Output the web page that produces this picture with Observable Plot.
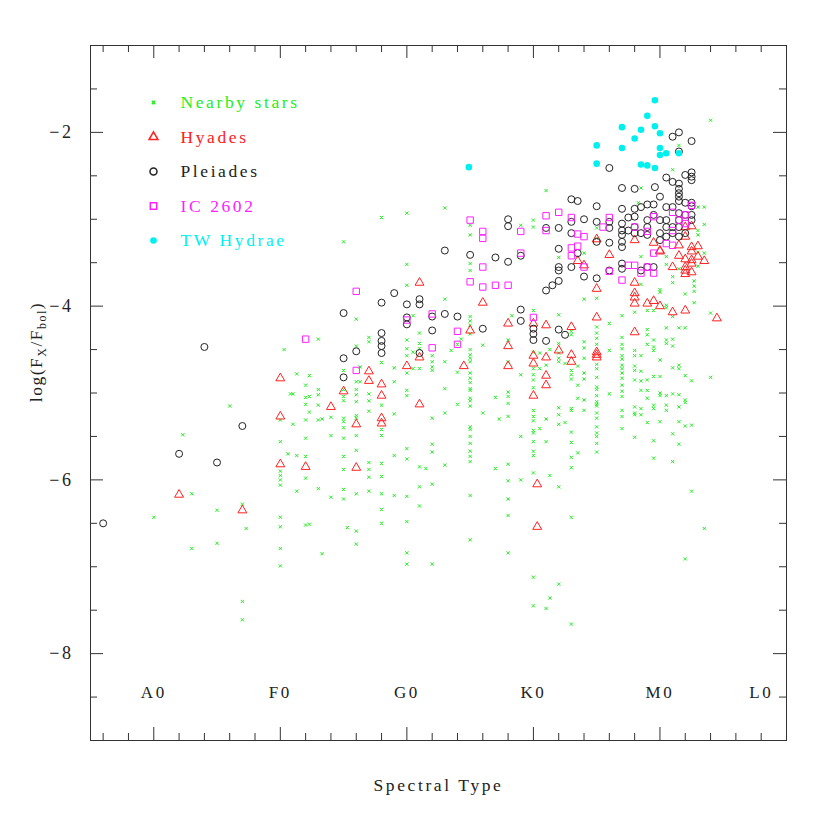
<!DOCTYPE html>
<html><head><meta charset="utf-8">
<script src="https://cdn.jsdelivr.net/npm/d3@7"></script>
<script src="https://cdn.jsdelivr.net/npm/@observablehq/plot@0.6"></script>
<style>body{margin:0;background:#fff}#chart svg{display:block}</style>
</head><body><div id="chart"></div>
<script>
// x = spectral subclass index (A0 = 0, F0 = 10, G0 = 20, K0 = 30, M0 = 40), y = log(Fx/Fbol)
const twHydrae = [[24.9,-2.40],[35,-2.15],[35,-2.36],[39.6,-1.63],[39,-1.81],[37,-1.94],[38.5,-1.97],[39.6,-1.93],[40,-2.01],[38,-2.07],[37,-2.18],[40,-2.18],[40,-2.26],[40.5,-2.24],[41.5,-2.24],[38.5,-2.37],[39,-2.38],[39.6,-2.41]];

const pleiades = [[-4,-6.50],[2,-5.70],[4,-4.47],[5,-5.80],[7,-5.38],
[15,-4.08],[19,-3.85],[18,-3.96],[20,-3.98],[20,-4.13],[20,-4.21],[16,-4.52],[15,-4.60],[15,-4.82],[18,-4.31],[18,-4.40],[18,-4.46],[18,-4.54],[21,-3.92],[21,-3.98],[21,-4.54],
[28,-3.00],[28,-3.08],[23,-3.36],[25,-3.41],[27,-3.44],[28,-3.49],[29,-3.42],[22,-4.12],[23,-4.09],[24,-4.12],[22,-4.28],[26,-4.26],[29,-4.04],[29,-4.17],[30,-4.26],[30,-4.32],[30,-4.39],
[36,-2.41],[33,-2.77],[33.5,-2.79],[35,-2.85],[31,-3.10],[32,-3.10],[33,-3.03],[33,-3.16],[34,-3.00],[35,-3.03],[36,-3.03],[36,-3.10],[35,-3.26],[36,-3.27],[32,-3.34],[33.5,-3.39],[32,-3.55],[32,-3.59],[33,-3.55],[34,-3.66],[35,-3.68],[32,-3.71],[31.5,-3.76],[31,-3.82],[36,-3.59],[31,-4.40],[32,-4.27],[32.5,-4.33],
[37,-3.51],[37,-3.57],[38.5,-3.59],[39,-3.55],[39.5,-3.55],
[41.5,-2.00],[41,-2.05],[42.5,-2.10],[41.5,-2.22],[40.5,-2.52],[41,-2.57],[42.5,-2.46],[42.5,-2.51],[42.5,-2.55],[42,-2.49],[41.5,-2.59],[41.5,-2.65],[41.5,-2.70],[41.5,-2.74],[41.5,-2.79],[37,-2.64],[38,-2.65],[39.6,-2.63],[40,-2.74],[39,-2.83],[39.5,-2.83],[38.5,-2.86],[40.5,-2.86],[41,-2.86],[42,-2.81],[42.5,-2.81],[42.5,-2.85],[42,-2.95],[37,-2.88],[38,-2.88],[38,-2.97],[37.5,-2.98],[39,-3.01],[39,-3.09],[39.5,-2.95],[40,-3.01],[40.5,-3.01],[40.5,-3.09],[41,-3.09],[41.5,-2.93],[41.5,-3.01],[41.5,-3.09],[42.5,-2.95],[42.5,-3.01],[37,-3.05],[37,-3.13],[37,-3.18],[38,-3.09],[38,-3.16],[37,-3.26],[37,-3.32],[40,-3.16],[40,-3.24],[39,-3.18],[37.5,-3.13],[38.5,-3.16],[41,-3.16],[41.5,-3.20],[40.5,-3.20],[42,-3.16]];

const ic2602 = [[12,-4.38],[16,-3.83],[16,-4.74],[20,-4.16],
[25,-3.01],[26,-3.14],[26,-3.22],[29,-3.14],[29,-3.39],[26,-3.55],[25,-3.72],[26,-3.78],[27,-3.76],[28,-3.76],[22,-4.09],[24,-4.29],[24,-4.44],[22,-4.48],[30,-4.13],
[31,-2.96],[32,-2.92],[33,-2.98],[33.5,-3.17],[34,-3.20],[33,-3.33],[33,-3.42],[33.5,-3.31],[34,-3.55],[36,-2.98],[35.5,-3.09],[31,-3.13],[36,-3.60],
[37,-3.70],[37.5,-3.53],[38,-3.53],[38.5,-3.62],[39,-3.55],[39.5,-3.62],
[39.5,-2.97],[41,-2.92],[42,-2.95],[42.5,-2.84],[38,-3.09],[39,-3.14],[41,-3.13],[41.5,-3.01],[42,-3.05],[40.5,-3.28],[41,-3.30],[39.5,-3.39]];

const hyades = [[10,-4.83],[10,-5.27],[10,-5.82],[2,-6.17],[7,-6.35],
[21,-3.73],[17,-4.75],[17,-4.86],[18,-4.90],[18,-5.03],[15,-4.98],[14,-5.16],[16,-5.36],[18,-5.29],[18,-5.35],[20,-4.69],[21,-4.59],[21,-5.13],[12,-5.85],[16,-5.86],
[26,-3.96],[25,-4.28],[28,-4.20],[28,-4.46],[28,-4.69],[24.5,-4.69],[30,-4.20],[30,-4.57],[30,-4.66],[30,-5.03],[30.3,-6.05],[30.3,-6.54],
[33.5,-3.48],[34,-3.53],[35,-3.23],[36,-3.41],[35,-3.80],[35,-4.13],[31,-4.22],[33,-4.24],[32,-4.51],[31,-4.59],[33,-4.56],[33,-4.64],[35,-4.53],[35,-4.56],[35,-4.59],[31,-4.80],[31,-4.91],
[40,-3.37],[41.5,-3.42],[42,-3.46],[42.5,-3.37],[42.5,-3.47],[42.5,-3.51],[43,-3.43],[43.5,-3.48],[41,-3.55],[42,-3.55],[42,-3.59],[42,-3.63],[42.5,-3.61],[38,-3.73],[38,-3.85],[38,-3.90],[38,-3.97],[39,-3.97],[39.5,-3.94],[40,-4.00],[41,-4.07],[42,-4.05],[44.5,-4.14],[38,-4.30],
[38,-3.24],[42,-3.09],[42.5,-3.08],[41.5,-3.30],[39.5,-3.27],[40,-3.36],[42.5,-3.32],[43,-3.31],[42,-3.20]];

const nearby = [[10.3,-4.50],[11.3,-4.78],[10.8,-5.01],[11,-5.01],[6,-5.15],[10,-5.31],[11,-5.36],[2.3,-5.48],[10,-5.56],[10.6,-5.70],[11.3,-5.72],[10,-5.90],[10,-5.95],[10,-6.00],[10,-6.06],[11.3,-6.13],[3,-6.16],[7,-6.28],[5,-6.35],[0,-6.43],[10,-6.43],[10,-6.54],[7.3,-6.56],[5,-6.73],[3,-6.79],[10,-6.79],[10,-6.99],[7,-7.40],[7,-7.61],
[18,-2.98],[20,-2.93],[15,-3.26],[20,-3.52],[20,-3.76],[16,-4.15],[13,-4.38],[17,-4.36],[17,-4.41],[16,-4.46],[20,-4.39],[20,-4.49],[20,-4.57],[18,-4.65],[19,-4.71],[16.3,-4.70],[15,-4.74],[20,-4.77],[12.3,-4.80],[12,-4.91],[16,-4.87],[16.3,-4.87],[19,-4.87],[12,-5.05],[12,-5.13],[12.3,-5.04],[13,-4.96],[13,-5.02],[15,-4.96],[15,-5.04],[15,-5.09],[16,-4.96],[16,-5.02],[16,-5.10],[17,-5.01],[17,-5.09],[18,-5.14],[20,-4.97],[20,-5.03],[13,-5.14],[12.3,-5.22],[17,-5.21],[19,-5.24],[12,-5.31],[13,-5.31],[13.3,-5.30],[14,-5.28],[15,-5.29],[15,-5.33],[15,-5.40],[16,-5.26],[16,-5.29],[16,-5.49],[18,-5.42],[18,-5.49],[14,-5.49],[15,-5.52],[12,-5.52],[16,-5.66],[20,-5.64],[20,-5.76],[19,-5.72],[12,-5.73],[15,-5.73],[17,-5.80],[17,-5.88],[17,-5.97],[18,-5.81],[18,-5.96],[15,-5.88],[12,-5.98],[13,-6.10],[15,-6.11],[15,-6.22],[14,-6.20],[17,-6.13],[16,-6.16],[18,-6.16],[19,-6.18],[20,-6.19],[18,-6.34],[20,-6.48],[18,-6.50],[12,-6.52],[12.3,-6.51],[15.3,-6.55],[16,-6.59],[16,-6.74],[13.3,-6.85],[20,-6.84],[20,-6.97],
[23,-2.87],[25,-3.07],[25,-3.18],[25,-3.51],[25,-3.59],[29,-3.07],[30,-3.01],[30,-3.09],[23,-3.92],[20.5,-4.11],[21,-4.31],[21,-4.43],[21,-4.49],[20.5,-4.53],[20.5,-4.72],[21,-4.72],[22,-4.57],[22,-4.64],[22,-4.70],[22,-4.74],[23,-4.64],[23.5,-4.51],[24.3,-4.38],[24,-4.44],[25,-4.12],[25,-4.17],[25,-4.22],[25,-4.32],[25,-4.50],[25,-4.56],[25,-4.60],[25,-4.64],[25,-4.77],[25,-4.83],[25,-4.88],[25,-4.95],[25,-4.97],[25,-5.06],[25,-5.09],[25,-5.15],[24,-4.76],[23,-4.95],[24,-5.13],[22,-5.29],[23,-5.23],[26,-4.45],[26,-5.23],[27,-5.05],[27.3,-5.30],[28,-4.39],[28,-4.64],[28,-4.99],[28,-5.04],[28,-5.12],[28,-5.27],[29,-4.79],[28.3,-4.11],[30,-4.05],[30,-4.53],[30.5,-4.54],[30,-4.72],[30,-4.79],[30,-4.85],[30,-4.94],[30.5,-4.72],[30,-5.20],[30,-5.27],[30,-5.32],[30,-5.43],[30,-5.46],[30,-5.56],[30,-5.67],[30,-5.72],[30.5,-5.41],[30,-5.92],[25,-5.39],[25,-5.42],[25,-5.50],[25,-5.58],[25,-5.67],[25,-5.73],[25,-5.79],[25,-6.18],[25,-6.69],[22,-5.59],[22,-5.68],[23,-5.83],[21,-5.85],[21.5,-5.87],[22,-6.05],[21,-6.08],[21,-6.30],[22,-6.97],[27,-5.87],[28,-5.82],[28,-6.01],[29,-5.50],[29,-6.00],[28,-6.22],[28,-6.41],[28,-6.84],[30,-7.12],[30,-7.45],
[31,-2.67],[35,-3.10],[35,-3.22],[34,-3.39],[32,-3.44],[34,-3.92],[35,-3.91],[36,-4.20],[36,-4.51],[36,-5.01],[32,-4.10],[33,-4.29],[33,-4.33],[32,-4.43],[32,-4.54],[32,-4.60],[32,-4.64],[34,-4.41],[34,-4.48],[34,-4.60],[31.3,-4.50],[31,-4.68],[32.5,-4.66],[33.5,-4.69],[34,-4.77],[34,-4.84],[33,-4.74],[33,-4.79],[33,-4.84],[35,-4.24],[35,-4.31],[35,-4.37],[35,-4.44],[35,-4.67],[35,-4.72],[35,-4.82],[35,-4.93],[35,-4.96],[35,-5.03],[35,-5.10],[35,-5.13],[35,-5.15],[35,-5.23],[35,-5.29],[35,-5.39],[35,-5.46],[35,-5.50],[35,-5.58],[35,-5.68],[32,-5.17],[32,-5.25],[32,-5.36],[31,-5.30],[31,-5.56],[32.5,-5.34],[33,-5.18],[33,-5.20],[33,-5.45],[33,-5.57],[33,-5.74],[33,-5.86],[33.5,-5.06],[33.5,-5.69],[34,-5.08],[34,-5.20],[33.5,-4.91],[31.3,-5.95],[32,-6.08],[33,-6.43],[32,-7.20],[31.3,-7.36],[31,-7.48],[33,-7.66],
[38.5,-3.43],[40.5,-3.43],[40.5,-3.52],[41,-3.66],[41,-3.73],[41.5,-3.57],[42.7,-3.71],[42.7,-3.77],[42.7,-3.83],[42,-3.86],[42.7,-3.96],[43,-3.54],[40,-3.81],[40,-3.84],[38.5,-3.75],[40.5,-3.99],[40.5,-4.02],[39,-4.05],[39.5,-4.05],[41,-4.12],[37,-4.11],[38,-4.07],[40.5,-4.25],[41.5,-4.25],[42,-4.25],[44,-4.08],[39,-4.27],[39,-4.33],[39.5,-4.39],[39.5,-4.47],[39.5,-4.51],[39,-4.44],[40,-4.62],[37,-4.36],[37,-4.44],[37,-4.49],[37,-4.57],[37,-4.61],[37,-4.68],[37,-4.72],[37,-4.77],[37,-4.83],[38,-4.51],[38,-4.57],[38,-4.69],[38,-4.74],[38.5,-4.57],[40.5,-4.39],[40.5,-4.43],[41,-4.38],[41,-4.46],[41.5,-4.68],[41.5,-4.72],[41,-4.71],[42,-4.80],[42.5,-4.86],[44,-4.82],[40,-4.81],[39.5,-4.81],[39,-4.85],[38.5,-4.75],[38.5,-4.86],[38,-4.85],[37,-4.91],[37,-4.98],[38.5,-4.97],[39,-4.97],[39,-5.06],[40,-5.00],[40,-5.03],[40.5,-5.03],[41,-5.01],[41.5,-5.02],[42,-5.08],[42,-5.11],[40.5,-5.14],[40.5,-5.20],[39.5,-5.14],[39.5,-5.18],[38,-5.16],[38,-5.23],[38,-5.25],[38.5,-5.18],[38.5,-5.25],[39,-5.34],[41.5,-5.16],[41.5,-5.33],[42,-5.38],[42.5,-5.37],[37,-5.04],[37,-5.20],[37,-5.27],[37,-5.41],[40,-5.33],
[38,-5.51],[39.5,-5.55],[41,-5.47],[41.5,-5.59],[39.5,-5.75],[41,-5.79],[42.5,-6.13],[43.5,-6.56],[42,-6.91],
[44,-1.86],[41.5,-2.15],[41,-2.43],[38.5,-2.64],[38.3,-2.81],[43,-2.86],[43.5,-2.86],[43.5,-3.06],[43,-3.13],[43,-3.18],[43,-3.38],[43.5,-3.39]];

const classTicks = [0, 10, 20, 30, 40];
const classNames = ["A0", "F0", "G0", "K0", "M0", "L0"];
const classPos = [0, 10, 20, 30, 40, 48];
const yMajor = [-2, -4, -6, -8];

const legend = [
  {name: "Nearby stars", color: "#22ee22", symbol: "times", r: 1.6, fill: "none"},
  {name: "Hyades", color: "#ff2020", symbol: "triangle", r: 3.3, fill: "none"},
  {name: "Pleiades", color: "#222222", symbol: "circle", r: 3.5, fill: "none"},
  {name: "IC 2602", color: "#ff20ff", symbol: "square", r: 3.6, fill: "none"},
  {name: "TW Hydrae", color: "#00f0f0", symbol: "circle", r: 3.3, fill: "fill"}
];
const seriesData = [nearby, hyades, pleiades, ic2602, twHydrae];

const W = 830, H = 830, mL = 90, mR = 44, mT = 45, mB = 90;
const fw = W - mL - mR, fh = H - mT - mB;
const majorLen = 13, minorLen = 7;
const minorX = d3.range(-4, 50, 2).filter(d => !classTicks.includes(d));
const minorY = d3.range(-8.5, -1, 0.5).filter(d => !yMajor.includes(d));
const axisColor = "#333";
const font = "Liberation Serif, DejaVu Serif, serif";

const marks = [];
seriesData.forEach((data, i) => {
  const L = legend[i];
  const opts = {x: d => d[0], y: d => d[1], symbol: L.symbol, r: L.r};
  if (L.fill === "fill") { opts.fill = L.color; opts.stroke = "none"; }
  else { opts.stroke = L.color; opts.fill = "none"; opts.strokeWidth = 1; }
  marks.push(Plot.dot(data, opts));
});
marks.push(Plot.frame({stroke: axisColor}));
marks.push(Plot.ruleX(classTicks, {x: d => d, insetTop: fh - majorLen, stroke: axisColor}));
marks.push(Plot.ruleX(classTicks, {x: d => d, insetBottom: fh - majorLen, stroke: axisColor}));
marks.push(Plot.ruleX(minorX, {x: d => d, insetTop: fh - minorLen, stroke: axisColor}));
marks.push(Plot.ruleX(minorX, {x: d => d, insetBottom: fh - minorLen, stroke: axisColor}));
marks.push(Plot.ruleY(yMajor, {y: d => d, insetRight: fw - majorLen, stroke: axisColor}));
marks.push(Plot.ruleY(yMajor, {y: d => d, insetLeft: fw - majorLen, stroke: axisColor}));
marks.push(Plot.ruleY(minorY, {y: d => d, insetRight: fw - minorLen, stroke: axisColor}));
marks.push(Plot.ruleY(minorY, {y: d => d, insetLeft: fw - minorLen, stroke: axisColor}));
marks.push(Plot.text(yMajor, {y: d => d, text: d => "\u2212" + Math.abs(d), frameAnchor: "left", lineAnchor: "middle", dx: -17, textAnchor: "end", fontSize: 18, fontFamily: font, fill: "#222"}));
marks.push(Plot.text(classNames, {x: (d, i) => classPos[i], text: d => d, frameAnchor: "bottom", lineAnchor: "middle", dy: -48, fontSize: 17, fontFamily: font, fill: "#222"}));
marks.push(Plot.text(["Spectral Type"], {frameAnchor: "bottom", lineAnchor: "middle", dy: 45, fontSize: 17.5, fontFamily: font, fill: "#222"}));
legend.forEach((L, i) => {
  const dy = 57 + 34.5 * i;
  const o = {frameAnchor: "top-left", dx: 63, dy, symbol: L.symbol, r: L.r};
  if (L.fill === "fill") { o.fill = L.color; } else { o.stroke = L.color; o.fill = "none"; }
  marks.push(Plot.dot([L], o));
  marks.push(Plot.text([L], {frameAnchor: "top-left", lineAnchor: "middle", dx: 90, dy, text: "name", textAnchor: "start", fill: L.color, fontSize: 17.5, fontFamily: font}));
});

const chart = Plot.plot({
  width: W, height: H,
  marginLeft: mL, marginRight: mR, marginTop: mT, marginBottom: mB,
  x: {domain: [-5, 50], axis: null},
  y: {domain: [-9, -1], axis: null},
  style: {background: "#fff"},
  marks
});

const svg = d3.select(chart);
// Hershey-like wide letter spacing for all Plot text
svg.selectAll("g[aria-label='text'] text").attr("letter-spacing", "2.6px");
const t = svg.append("text")
  .attr("transform", "translate(42,352) rotate(-90)")
  .attr("text-anchor", "middle")
  .attr("font-family", font)
  .attr("font-size", 17.5)
  .attr("letter-spacing", "1.5px")
  .attr("fill", "#222");
t.append("tspan").text("log(F");
t.append("tspan").attr("font-size", 12).attr("dy", 4).text("X");
t.append("tspan").attr("dy", -4).text("/F");
t.append("tspan").attr("font-size", 12).attr("dy", 4).text("bol");
t.append("tspan").attr("dy", -4).text(")");

document.getElementById("chart").appendChild(chart);
</script>
</body></html>
